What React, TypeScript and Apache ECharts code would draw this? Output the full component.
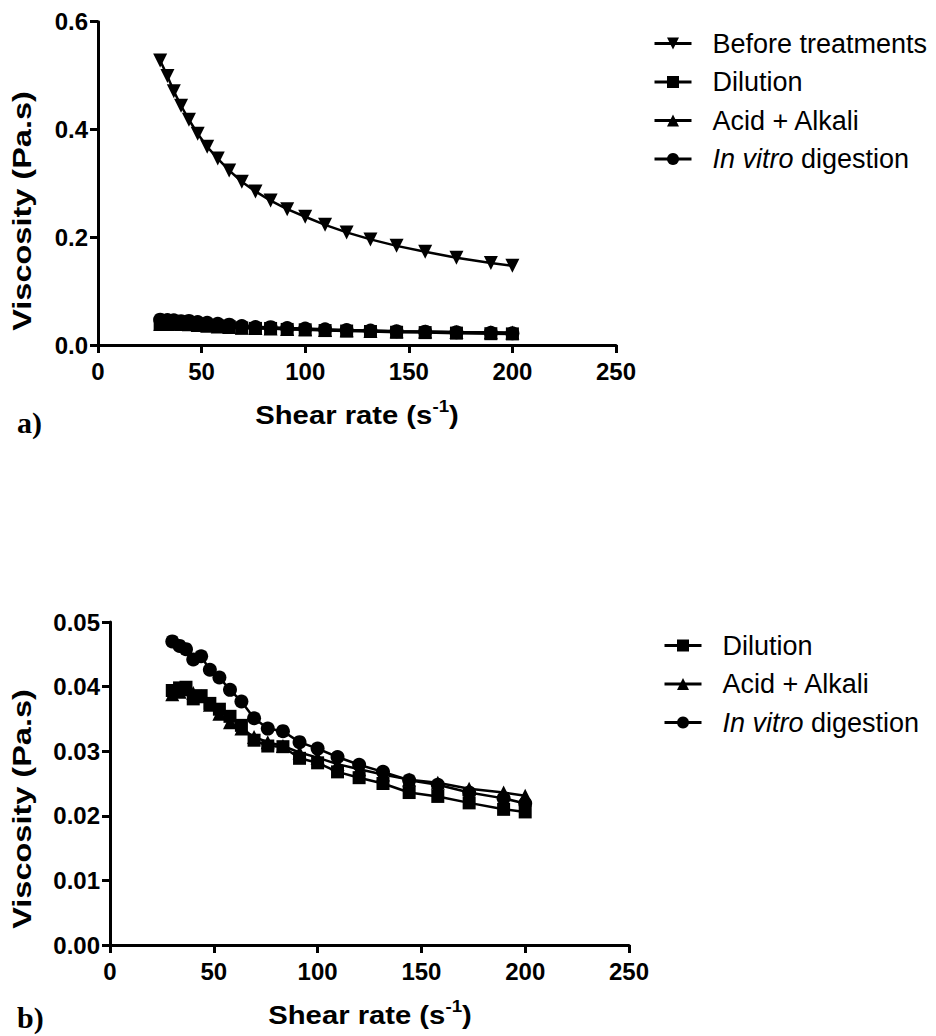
import React, { useEffect, useRef } from "react";
import * as echarts from "echarts";

// Shear rate (s^-1) at which viscosity was measured
const SHEAR_RATE = [30, 33.5, 36.6, 40.1, 43.9, 48.1, 52.7, 57.8, 63.3, 69.4, 76, 83.3, 91.3, 100, 109.6, 120, 131.5, 144.1, 157.9, 173, 189.6, 200];

// Viscosity (Pa.s)
const BEFORE_TREATMENTS = [0.528, 0.499, 0.471, 0.444, 0.418, 0.392, 0.368, 0.346, 0.324, 0.303, 0.285, 0.268, 0.252, 0.238, 0.223, 0.209, 0.196, 0.184, 0.173, 0.162, 0.152, 0.147];
const DILUTION = [0.0394, 0.0398, 0.0399, 0.0381, 0.0386, 0.0374, 0.0365, 0.0354, 0.034, 0.0317, 0.0308, 0.0307, 0.0289, 0.0282, 0.0268, 0.0259, 0.025, 0.0236, 0.023, 0.022, 0.021, 0.0206];
const ACID_ALKALI = [0.0388, 0.0392, 0.0396, 0.039, 0.0385, 0.0372, 0.0358, 0.0345, 0.0335, 0.0322, 0.0314, 0.0308, 0.0298, 0.029, 0.028, 0.0272, 0.0264, 0.0256, 0.0251, 0.0242, 0.0236, 0.0231];
const IN_VITRO = [0.047, 0.0463, 0.0458, 0.0442, 0.0447, 0.0426, 0.0414, 0.0395, 0.0377, 0.0351, 0.0335, 0.0331, 0.0314, 0.0304, 0.0291, 0.0279, 0.0268, 0.0255, 0.0248, 0.0236, 0.0227, 0.0219];

const TOP_LEGEND = ["Before treatments", "Dilution", "Acid + Alkali", "In vitro digestion"];
const BOTTOM_LEGEND = ["Dilution", "Acid + Alkali", "In vitro digestion"];

const FONT = '"Liberation Sans", Arial, Helvetica, sans-serif';
const SERIF = '"Liberation Serif", "Times New Roman", serif';
const TRI_DOWN = "path://M0,0L10,0L5,9.5Z";

const pairs = (ys: number[]) => SHEAR_RATE.map((x, i) => [x, ys[i]]);

function lineSeries(name: string, ys: number[], symbol: string, size: number, idx: number) {
  return {
    type: "line",
    name,
    data: pairs(ys),
    xAxisIndex: idx,
    yAxisIndex: idx,
    symbol,
    symbolSize: size,
    showSymbol: true,
    lineStyle: { color: "#000", width: 2.5 },
    itemStyle: { color: "#000" },
    emphasis: { disabled: true },
    silent: true,
  };
}

function xAxisOpt(gridIndex: number) {
  return {
    type: "value",
    gridIndex,
    min: 0,
    max: 250,
    interval: 50,
    axisLine: { show: true, onZero: false, lineStyle: { color: "#000", width: 3 } },
    axisTick: { show: true, length: 8, lineStyle: { color: "#000", width: 3 } },
    axisLabel: { color: "#000", fontSize: 24, fontWeight: "bold", fontFamily: FONT, margin: 14 },
    splitLine: { show: false },
  };
}

function yAxisOpt(gridIndex: number, max: number, interval: number, digits: number) {
  return {
    type: "value",
    gridIndex,
    min: 0,
    max,
    interval,
    axisLine: { show: true, onZero: false, lineStyle: { color: "#000", width: 3 } },
    axisTick: { show: true, length: 8, lineStyle: { color: "#000", width: 3 } },
    axisLabel: {
      color: "#000",
      fontSize: 24,
      fontWeight: "bold",
      fontFamily: FONT,
      margin: 10,
      formatter: (v: number) => v.toFixed(digits),
    },
    splitLine: { show: false },
  };
}

function legendOpt(data: string[], left: number, top: number) {
  return {
    data,
    orient: "vertical",
    left,
    top,
    padding: 0,
    itemWidth: 37,
    itemHeight: 15,
    itemGap: 11.5,
    selectedMode: false,
    lineStyle: { width: 3 },
    textStyle: {
      color: "#000",
      fontSize: 27,
      fontFamily: FONT,
      lineHeight: 26,
      padding: [0, 0, 0, 16],
      rich: {
        it: { fontStyle: "italic", fontSize: 27, fontFamily: FONT, color: "#000", lineHeight: 26 },
      },
    },
    formatter: (name: string) => (name === "In vitro digestion" ? "{it|In vitro} digestion" : name),
  };
}

function xTitle(x: number, y: number) {
  return {
    type: "text",
    x,
    y,
    scaleX: 1.17,
    silent: true,
    style: {
      text: "{m|Shear rate (s}{s|-1}{m|)}",
      align: "center",
      verticalAlign: "middle",
      fill: "#000",
      rich: {
        m: { fontSize: 25, fontWeight: "bold", fontFamily: FONT, lineHeight: 34, fill: "#000" },
        s: { fontSize: 16, fontWeight: "bold", fontFamily: FONT, lineHeight: 8, verticalAlign: "top", fill: "#000" },
      },
    },
  };
}

function yTitle(x: number, y: number) {
  return {
    type: "text",
    x,
    y,
    rotation: Math.PI / 2,
    scaleX: 1.3,
    silent: true,
    style: {
      text: "Viscosity (Pa.s)",
      align: "center",
      verticalAlign: "middle",
      fill: "#000",
      fontSize: 25,
      fontWeight: "bold",
      fontFamily: FONT,
    },
  };
}

function panelLabel(text: string, x: number, y: number) {
  return {
    type: "text",
    x,
    y,
    silent: true,
    style: {
      text,
      align: "left",
      verticalAlign: "middle",
      fill: "#000",
      fontSize: 30,
      fontWeight: "bold",
      fontFamily: SERIF,
    },
  };
}

export default function App() {
  const ref = useRef<HTMLDivElement>(null);

  useEffect(() => {
    if (!ref.current) return;
    const chart = echarts.init(ref.current, null, { renderer: "svg" });
    chart.setOption({
      animation: false,
      backgroundColor: "#fff",
      grid: [
        { left: 98, top: 21.7, width: 518, height: 323.3 },
        { left: 110, top: 622, width: 519, height: 323 },
      ],
      xAxis: [xAxisOpt(0), xAxisOpt(1)],
      yAxis: [yAxisOpt(0, 0.6, 0.2, 1), yAxisOpt(1, 0.05, 0.01, 2)],
      legend: [legendOpt(TOP_LEGEND, 653, 30), legendOpt(BOTTOM_LEGEND, 663, 632)],
      series: [
        lineSeries("Before treatments", BEFORE_TREATMENTS, TRI_DOWN, 14, 0),
        lineSeries("Dilution", DILUTION, "rect", 13, 0),
        lineSeries("Acid + Alkali", ACID_ALKALI, "triangle", 14, 0),
        lineSeries("In vitro digestion", IN_VITRO, "circle", 14, 0),
        lineSeries("Dilution", DILUTION, "rect", 13, 1),
        lineSeries("Acid + Alkali", ACID_ALKALI, "triangle", 14, 1),
        lineSeries("In vitro digestion", IN_VITRO, "circle", 14, 1),
      ],
      graphic: [
        yTitle(22, 211),
        xTitle(357, 415),
        panelLabel("a)", 17, 422),
        yTitle(22, 809),
        xTitle(370, 1015),
        panelLabel("b)", 17, 1017),
      ],
    });
    return () => chart.dispose();
  }, []);

  return (
    <div
      ref={ref}
      style={{ position: "absolute", left: 0, top: 0, width: 936, height: 1036, background: "#fff" }}
    />
  );
}
